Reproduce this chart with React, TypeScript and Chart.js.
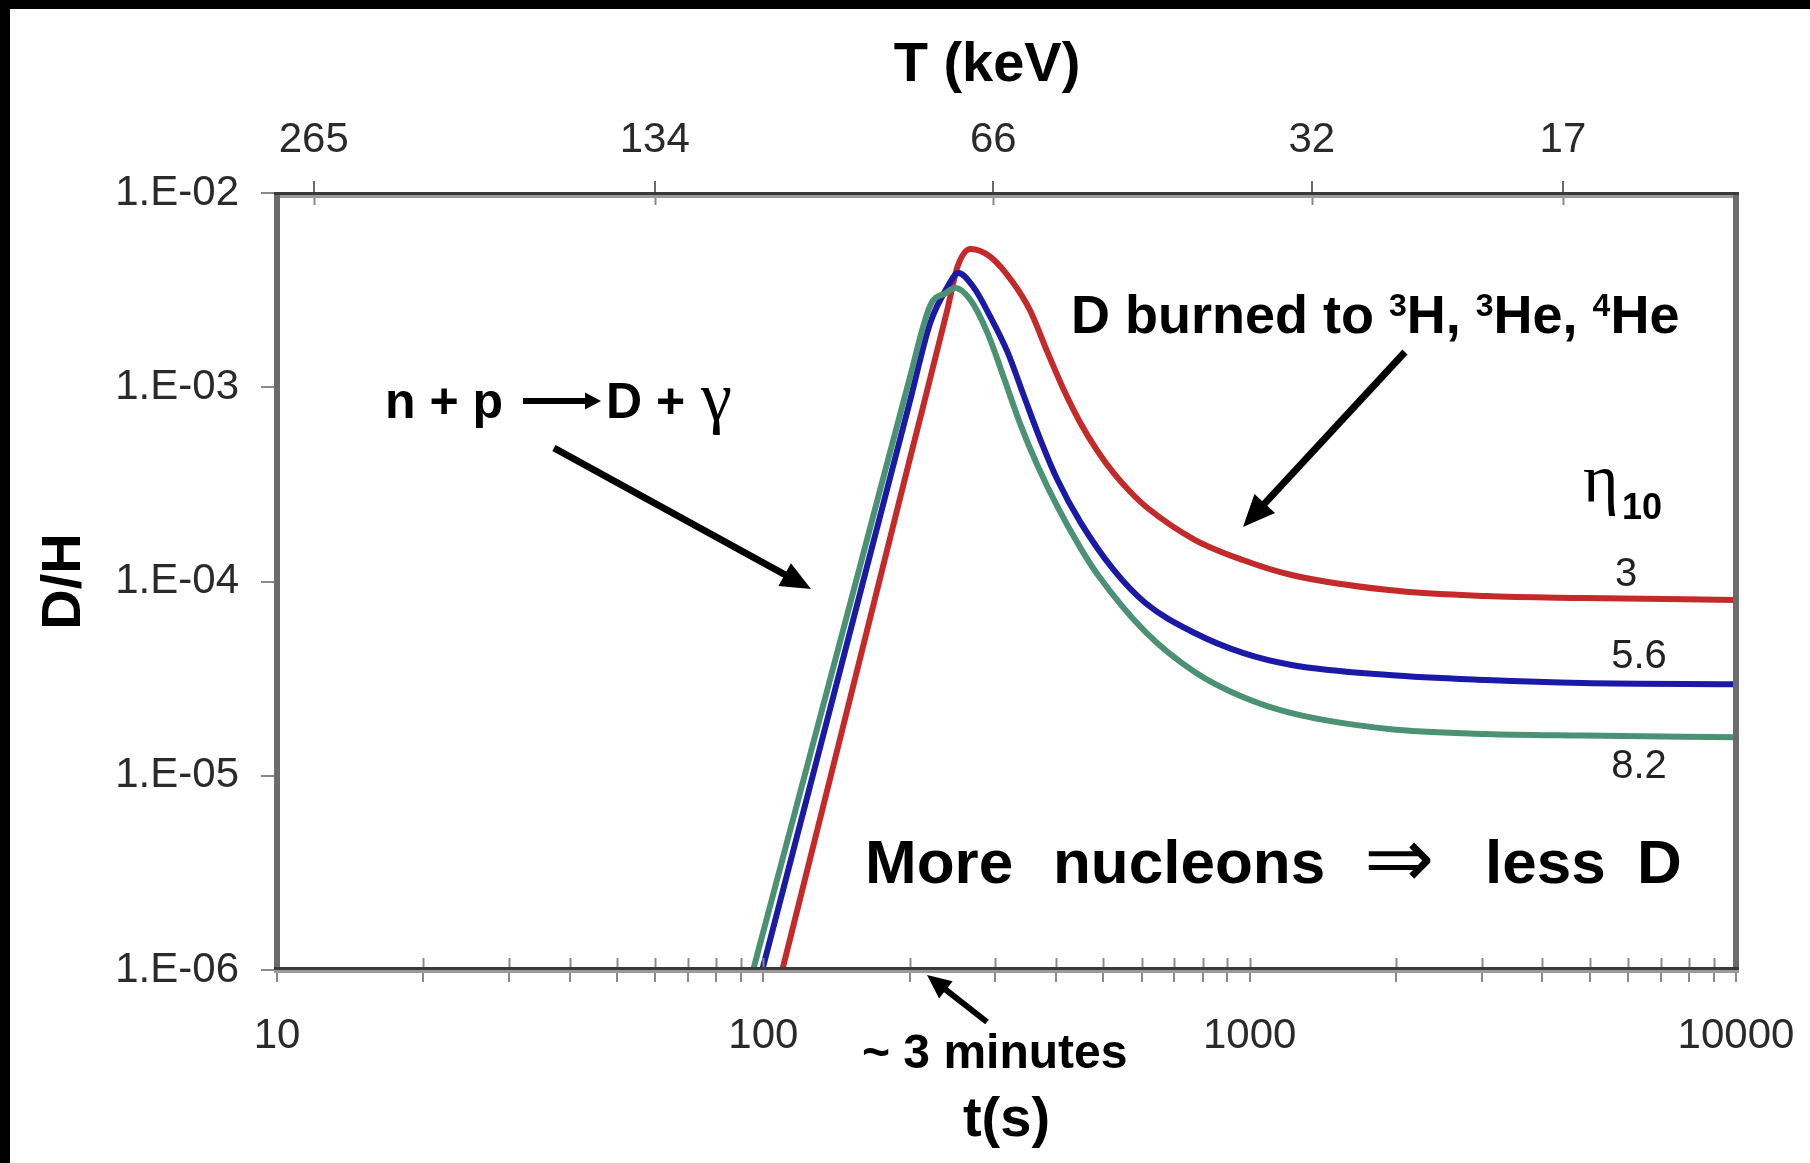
import React, { useEffect, useRef } from 'react';
import { Chart, registerables } from 'chart.js';

Chart.register(...registerables);

// ---- data ----
// eta10 = 3 (red)
const redT = [105, 109.4, 158.5, 199.5, 239, 250.6, 266.7, 293.1, 326.6, 354, 383.7, 414, 448.7, 486.3, 524.8, 568.6, 616.6, 770.9, 968.3, 1219, 1932, 3062, 4842, 10000];
const redDH = [6.64e-7, 1.0e-6, 4.12e-5, 4.15e-4, 2.51e-3, 4.16e-3, 5.15e-3, 4.69e-3, 3.44e-3, 2.47e-3, 1.52e-3, 9.79e-4, 6.55e-4, 4.7e-4, 3.62e-4, 2.89e-4, 2.39e-4, 1.64e-4, 1.29e-4, 1.08e-4, 9.04e-5, 8.41e-5, 8.22e-5, 8.04e-5];
// eta10 = 5.6 (blue)
const blueT = [92, 99.5, 158.5, 199.5, 220.6, 239.1, 251.8, 270.4, 293.1, 317.7, 342.8, 371.5, 402.7, 448.7, 524.8, 610.4, 770.9, 968.3, 1219, 1932, 3062, 4842, 10000];
const blueDH = [4.68e-7, 1.0e-6, 8.9e-5, 8.2e-4, 2.16e-3, 3.28e-3, 3.87e-3, 3.28e-3, 2.3e-3, 1.52e-3, 9.12e-4, 5.35e-4, 3.33e-4, 2.02e-4, 1.15e-4, 7.75e-5, 5.43e-5, 4.29e-5, 3.72e-5, 3.3e-5, 3.11e-5, 3.0e-5, 2.96e-5];
// eta10 = 8.2 (green)
const greenT = [88, 95.3, 158.5, 199.5, 220.6, 236.9, 248.3, 266.7, 289.1, 311.9, 338, 366.4, 402.7, 448.7, 486.3, 610.4, 770.9, 968.3, 1219, 1932, 3062, 4842, 10000];
const greenDH = [4.72e-7, 1.0e-6, 1.23e-4, 1.09e-3, 2.65e-3, 3.05e-3, 3.24e-3, 2.81e-3, 1.9e-3, 1.13e-3, 6.4e-4, 3.94e-4, 2.42e-4, 1.49e-4, 1.09e-4, 5.5e-5, 3.42e-5, 2.54e-5, 2.1e-5, 1.74e-5, 1.64e-5, 1.61e-5, 1.58e-5];

const seriesLabels = ['8.2', '5.6', '3'];
const seriesColors = ['#4b9274', '#1a1aa6', '#c42a2a'];

const yTickValues = [1e-6, 1e-5, 1e-4, 1e-3, 1e-2];
const yTickLabels = ['1.E-06', '1.E-05', '1.E-04', '1.E-03', '1.E-02'];
const xTickValues = [10, 20, 30, 40, 50, 60, 70, 80, 90, 100, 200, 300, 400, 500, 600, 700, 800, 900, 1000, 2000, 3000, 4000, 5000, 6000, 7000, 8000, 9000, 10000];
const xLabelValues = [10, 100, 1000, 10000];
const topTickTimes = [11.9, 59.8, 297, 1342, 4406];
const topTickLabels = ['265', '134', '66', '32', '17'];

const SANS = '"Liberation Sans", Arial, sans-serif';
const SERIF = '"Liberation Serif", "Times New Roman", serif';

function arrow(ctx: CanvasRenderingContext2D, x1: number, y1: number, x2: number, y2: number, w: number, hl: number, hw: number) {
  const a = Math.atan2(y2 - y1, x2 - x1);
  const bx = x2 - hl * Math.cos(a);
  const by = y2 - hl * Math.sin(a);
  ctx.lineWidth = w;
  ctx.lineCap = 'butt';
  ctx.beginPath();
  ctx.moveTo(x1, y1);
  ctx.lineTo(bx + Math.cos(a) * 2, by + Math.sin(a) * 2);
  ctx.stroke();
  ctx.beginPath();
  ctx.moveTo(x2, y2);
  ctx.lineTo(bx + (hw / 2) * Math.sin(a), by - (hw / 2) * Math.cos(a));
  ctx.lineTo(bx - (hw / 2) * Math.sin(a), by + (hw / 2) * Math.cos(a));
  ctx.closePath();
  ctx.fill();
}

const decor = {
  id: 'decor',
  beforeDraw(chart: any) {
    const { ctx, width, height } = chart;
    ctx.save();
    ctx.fillStyle = '#ffffff';
    ctx.fillRect(0, 0, width, height);
    ctx.fillStyle = '#000000';
    ctx.fillRect(0, 0, width, 9);
    ctx.fillRect(0, 0, 10, height);
    ctx.restore();
  },
  afterDatasetsDraw(chart: any) {
    const { ctx, chartArea } = chart;
    const { left, right, top, bottom } = chartArea;
    ctx.save();
    // inward tick marks on the horizontal axes
    ctx.strokeStyle = '#8a8a8a';
    ctx.lineWidth = 2;
    for (const id of ['x', 'x2']) {
      const s = chart.scales[id];
      for (const t of s.ticks) {
        const px = Math.round(s.getPixelForValue(t.value)) + 0.5;
        ctx.beginPath();
        if (id === 'x') {
          ctx.moveTo(px, bottom);
          ctx.lineTo(px, bottom - 12);
        } else {
          ctx.moveTo(px, top);
          ctx.lineTo(px, top + 12);
        }
        ctx.stroke();
      }
    }
    // frame
    ctx.fillStyle = '#6b6b6b';
    ctx.fillRect(left - 3, top - 1, 6, bottom - top + 4);
    ctx.fillRect(right - 3, top - 1, 6, bottom - top + 4);
    ctx.fillStyle = '#3a3a3a';
    ctx.fillRect(left - 3, top - 1, right - left + 6, 3);
    ctx.fillRect(left - 3, bottom - 3, right - left + 6, 3);
    ctx.fillStyle = '#9a9a9a';
    ctx.fillRect(left + 3, top + 2, right - left - 6, 3);
    ctx.fillRect(left - 3, bottom, right - left + 6, 3);

    // annotations
    ctx.fillStyle = '#000';
    ctx.strokeStyle = '#000';
    ctx.textBaseline = 'alphabetic';
    ctx.textAlign = 'left';

    // top axis title
    ctx.font = `bold 56px ${SANS}`;
    ctx.textAlign = 'center';
    ctx.textBaseline = 'middle';
    ctx.fillText('T (keV)', 987, 66);
    ctx.textAlign = 'left';
    ctx.textBaseline = 'alphabetic';

    // n + p -> D + gamma
    ctx.font = `bold 50px ${SANS}`;
    ctx.fillText('n + p', 385, 418);
    arrow(ctx, 523, 401, 601, 401, 6, 16, 17);
    ctx.fillText('D +', 606, 418);
    ctx.font = `70px ${SERIF}`;
    ctx.fillText('\u03b3', 701, 420);
    arrow(ctx, 554, 448, 811, 589, 7, 30, 26);

    // D burned to 3H, 3He, 4He
    let x = 1071;
    const base = 333;
    const parts: [string, boolean][] = [['D burned to ', false], ['3', true], ['H, ', false], ['3', true], ['He, ', false], ['4', true], ['He', false]];
    for (const [txt, sup] of parts) {
      ctx.font = sup ? `bold 32px ${SANS}` : `bold 54px ${SANS}`;
      ctx.fillText(txt, x, sup ? base - 17 : base);
      x += ctx.measureText(txt).width;
    }
    arrow(ctx, 1405, 352, 1243, 527, 7, 32, 28);

    // eta_10 legend
    ctx.font = `68px ${SERIF}`;
    ctx.fillText('\u03b7', 1583, 502);
    ctx.font = `bold 36px ${SANS}`;
    ctx.fillText('10', 1622, 519);
    ctx.font = `40px ${SANS}`;
    ctx.fillStyle = '#222';
    ctx.textAlign = 'center';
    ctx.fillText(seriesLabels[2], 1626, 586);
    ctx.fillText(seriesLabels[1], 1639, 668);
    ctx.fillText(seriesLabels[0], 1639, 778);
    ctx.textAlign = 'left';
    ctx.fillStyle = '#000';

    // More nucleons => less D
    ctx.font = `bold 62px ${SANS}`;
    ctx.fillText('More', 865, 883);
    ctx.fillText('nucleons', 1053, 883);
    ctx.fillText('less', 1485, 883);
    ctx.fillText('D', 1637, 883);
    ctx.font = `84px "DejaVu Sans", sans-serif`;
    ctx.fillText('\u21d2', 1364, 887);

    // ~ 3 minutes
    ctx.font = `bold 48px ${SANS}`;
    ctx.fillText('~ 3 minutes', 862, 1068);
    arrow(ctx, 987, 1022, 927, 975, 6, 24, 22);

    ctx.restore();
  },
};

export default function App() {
  const ref = useRef<HTMLCanvasElement>(null);
  useEffect(() => {
    if (!ref.current) return;
    Chart.defaults.font.family = SANS;
    const mk = (ts: number[], vs: number[]) => ts.map((t, i) => ({ x: t, y: vs[i] }));
    const chart = new Chart(ref.current, {
      type: 'line',
      data: {
        datasets: [
          { label: seriesLabels[0], data: mk(greenT, greenDH), borderColor: seriesColors[0] },
          { label: seriesLabels[1], data: mk(blueT, blueDH), borderColor: seriesColors[1] },
          { label: seriesLabels[2], data: mk(redT, redDH), borderColor: seriesColors[2] },
        ],
      },
      options: {
        animation: false,
        responsive: false,
        layout: { padding: { left: 0, top: 0, right: 74, bottom: 0 } },
        plugins: { legend: { display: false }, tooltip: { enabled: false } },
        elements: {
          point: { radius: 0 },
          line: { borderWidth: 6, cubicInterpolationMode: 'monotone', fill: false, borderCapStyle: 'round', borderJoinStyle: 'round' },
        },
        scales: {
          x: {
            type: 'logarithmic',
            position: 'bottom',
            min: 10,
            max: 10000,
            afterBuildTicks: (s: any) => { s.ticks = xTickValues.map((v) => ({ value: v })); },
            afterFit: (s: any) => { s.height = 193; s.paddingLeft = 0; s.paddingRight = 0; },
            ticks: {
              autoSkip: false,
              maxRotation: 0,
              minRotation: 0,
              padding: 29,
              color: '#2a2a2a',
              font: { size: 42 },
              callback: (v: any) => (xLabelValues.includes(Number(v)) ? String(v) : ''),
            },
            grid: { drawOnChartArea: false, drawTicks: true, tickLength: 12, color: '#8a8a8a', lineWidth: 2 },
            border: { display: false },
            title: { display: true, text: 't(s)', color: '#000', font: { size: 56, weight: 'bold' }, padding: { top: 0, bottom: 9 } },
          },
          x2: {
            type: 'logarithmic',
            position: 'top',
            min: 10,
            max: 10000,
            afterBuildTicks: (s: any) => { s.ticks = topTickTimes.map((v) => ({ value: v })); },
            afterFit: (s: any) => { s.height = 193; s.paddingLeft = 0; s.paddingRight = 0; },
            ticks: {
              autoSkip: false,
              maxRotation: 0,
              minRotation: 0,
              padding: 15,
              color: '#2a2a2a',
              font: { size: 42 },
              callback: (_v: any, i: number) => topTickLabels[i],
            },
            grid: { drawOnChartArea: false, drawTicks: true, tickLength: 12, color: '#6a6a6a', lineWidth: 2 },
            border: { display: false },
          },
          y: {
            type: 'logarithmic',
            position: 'left',
            min: 1e-6,
            max: 1e-2,
            afterBuildTicks: (s: any) => { s.ticks = yTickValues.map((v) => ({ value: v })); },
            afterFit: (s: any) => { s.width = 277; },
            ticks: {
              autoSkip: false,
              padding: 22,
              color: '#2a2a2a',
              font: { size: 42 },
              callback: (_v: any, i: number) => yTickLabels[i],
            },
            grid: { drawOnChartArea: false, drawTicks: true, tickLength: 16, color: '#8a8a8a', lineWidth: 2 },
            border: { display: false },
            title: { display: true, text: 'D/H', color: '#000', font: { size: 56, weight: 'bold' }, padding: { top: 31, bottom: 0 } },
          },
        },
      },
      plugins: [decor],
    } as any);
    return () => chart.destroy();
  }, []);
  return (
    <div style={{ position: 'fixed', left: 0, top: 0, width: 1810, height: 1163, overflow: 'hidden' }}>
      <canvas ref={ref} width={1810} height={1163} style={{ display: 'block', width: 1810, height: 1163 }} />
    </div>
  );
}
